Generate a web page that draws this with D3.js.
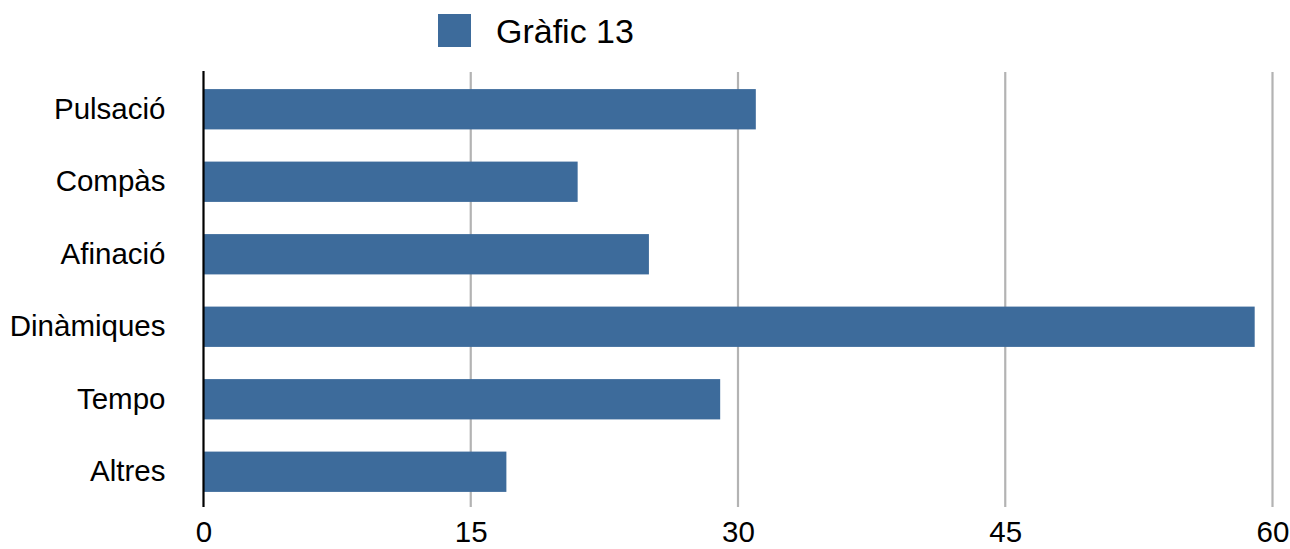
<!DOCTYPE html>
<html>
<head>
<meta charset="utf-8">
<script src="https://cdn.jsdelivr.net/npm/d3@7"></script>
<style>
  html, body { margin: 0; padding: 0; background: #fff; }
  svg { display: block; font-family: "Liberation Sans", Arial, Helvetica, sans-serif; }
</style>
</head>
<body>
<svg id="chart" width="1290" height="549"></svg>
<script>
const categories = ["Pulsació", "Compàs", "Afinació", "Dinàmiques", "Tempo", "Altres"];
const values = [31, 21, 25, 59, 29, 17];
const seriesName = "Gràfic 13";
const xTicks = [0, 15, 30, 45, 60];

const barColor = "#3d6b9b";
const svg = d3.select("#chart");

const plot = { left: 203.5, right: 1272.5, top: 73, bottom: 508 };

const x = d3.scaleLinear().domain([0, 60]).range([plot.left, plot.right]);
const y = d3.scaleBand().domain(categories).range([plot.top, plot.bottom]).paddingInner(0.444).paddingOuter(0.222);

// gridlines
svg.append("g")
  .selectAll("line")
  .data(xTicks.filter(d => d !== 0))
  .join("line")
  .attr("x1", d => x(d)).attr("x2", d => x(d))
  .attr("y1", 72).attr("y2", 507)
  .attr("stroke", "#b3b3b3")
  .attr("stroke-width", 2.2);

// bars
svg.append("g")
  .selectAll("rect")
  .data(categories.map((c, i) => ({ c, v: values[i] })))
  .join("rect")
  .attr("x", x(0))
  .attr("y", d => y(d.c))
  .attr("width", d => x(d.v) - x(0))
  .attr("height", y.bandwidth())
  .attr("fill", barColor);

// zero axis line
svg.append("line")
  .attr("x1", x(0)).attr("x2", x(0))
  .attr("y1", 71).attr("y2", 507)
  .attr("stroke", "#000")
  .attr("stroke-width", 2.2);

// y axis labels
const yAxis = d3.axisLeft(y).tickSize(0).tickPadding(38);
const gy = svg.append("g").attr("transform", `translate(${x(0)},0)`).call(yAxis);
gy.select(".domain").remove();
gy.selectAll("text")
  .attr("font-size", 29.5)
  .attr("fill", "#000")
  .attr("font-family", "\"Liberation Sans\", Arial, Helvetica, sans-serif");

// x axis labels
const xAxis = d3.axisBottom(x).tickValues(xTicks).tickSize(0).tickPadding(0).tickFormat(d3.format("d"));
const gx = svg.append("g").attr("transform", `translate(0,${plot.bottom})`).call(xAxis);
gx.select(".domain").remove();
gx.selectAll("text")
  .attr("dy", null)
  .attr("y", 34)
  .attr("font-size", 29.5)
  .attr("fill", "#000")
  .attr("font-family", "\"Liberation Sans\", Arial, Helvetica, sans-serif");

// legend
const legend = svg.append("g");
legend.append("rect")
  .attr("x", 438).attr("y", 14).attr("width", 33).attr("height", 33)
  .attr("fill", barColor);
legend.append("text")
  .attr("x", 496).attr("y", 43)
  .attr("font-size", 34)
  .attr("fill", "#000")
  .text(seriesName);
</script>
</body>
</html>
